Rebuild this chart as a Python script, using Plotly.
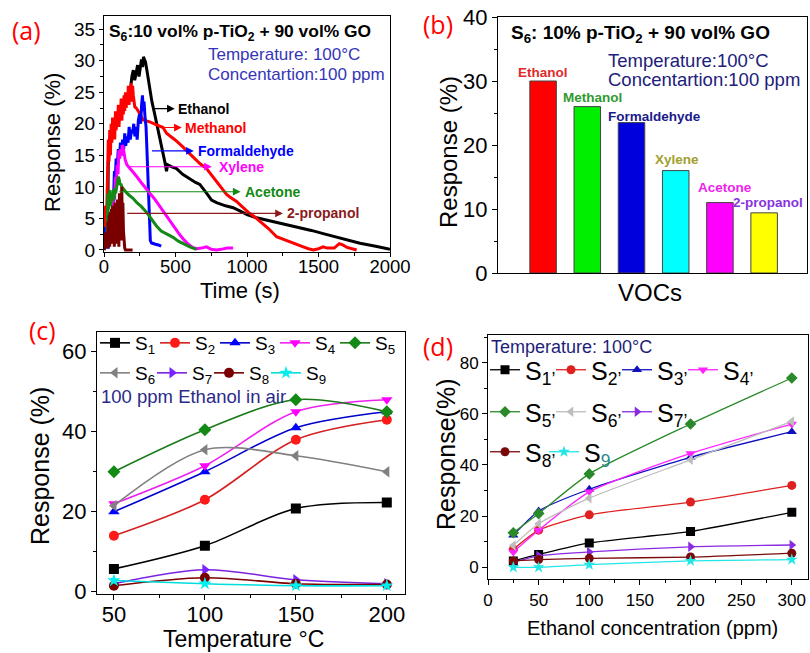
import plotly.graph_objects as go

W, H = 810, 653
def px(x): return x / W
def py(y): return 1 - y / H

# ---------------- Panel (a): response vs time ----------------
ethanol_t = [0, 25, 30, 40, 60, 80, 100, 120, 140, 160,
             180, 195, 205, 215, 225, 235, 245, 255, 262, 270,
             276, 283, 290, 300, 310, 320, 335, 350, 365, 380,
             395, 410, 425, 437, 445, 470, 507, 550, 600, 640,
             670, 700, 717, 752, 787, 850, 903, 950, 1000, 1067,
             1137, 1200, 1253, 1300, 1370, 1450, 1533, 1603, 1700, 1790,
             1900, 2000]
ethanol_r = [0, 2, 14, 17, 18.5, 19.5, 20.5, 21.5, 22.5, 23.5,
             24.5, 27.5, 28.5, 26.9, 28.5, 29.3, 27.5, 29.6, 30.2, 29,
             30.6, 30.2, 29.8, 28.5, 27, 25.3, 23.5, 22, 20.5, 18.5,
             17, 15.5, 14, 12.5, 13.5, 13.2, 12.9, 12.0, 11.2, 10.7,
             10.4, 9.6, 9.0, 7.9, 7.5, 7.0, 6.7, 6.2, 5.6, 5.1,
             4.75, 4.4, 4.2, 3.9, 3.5, 3.1, 2.6, 2.2, 1.6, 1.06,
             0.6, 0.1]
methanol_t = [0, 5, 10, 15, 20, 25, 30, 35, 40, 45,
              50, 55, 60, 65, 70, 75, 80, 85, 90, 95,
              100, 105, 110, 115, 120, 125, 130, 135, 140, 145,
              150, 155, 160, 165, 170, 175, 180, 185, 190, 195,
              200, 205, 210, 215, 225, 240, 273, 320, 360, 413,
              437, 500, 553, 600, 640, 670, 717, 770, 820, 857,
              880, 927, 960, 1008, 1050, 1090, 1150, 1207, 1250, 1300,
              1350, 1393, 1430, 1463, 1500, 1533, 1560, 1580, 1610, 1645,
              1670, 1700, 1735, 1767]
methanol_r = [7, 2, 6.5, 1, 7, 12, 17.5, 14, 19, 15,
              20, 17, 21, 18, 20.5, 17.5, 22, 19, 21, 20,
              23, 19.5, 22.5, 21, 24, 20.5, 23, 21.5, 24.5, 22,
              25, 22.5, 24, 23, 26, 23, 25.5, 24, 26.4, 23.5,
              26, 24.5, 23, 22.7, 22.5, 22.0, 20.6, 20.3, 19.9, 19.4,
              18.5, 17.4, 16.3, 15.3, 14.5, 13.7, 12.9, 11.4, 10.0, 8.8,
              8.4, 7.7, 7.0, 6.0, 5.3, 4.6, 3.4, 2.1, 1.7, 1.3,
              0.9, 0.5, 0.2, 0.0, 0.2, 0.5, 0.3, 0.3, 0.3, 1.0,
              0.8, 0.4, 0.2, 0.0]
formaldehyde_t = [0, 8, 15, 22, 30, 38, 45, 52, 58, 63,
                  68, 73, 78, 85, 92, 100, 108, 115, 122, 130,
                  138, 145, 152, 160, 168, 176, 184, 192, 200, 208,
                  216, 224, 232, 240, 248, 256, 263, 269, 275, 280,
                  287, 294, 300, 306, 312, 318, 324, 332, 343, 360,
                  380, 400]
formaldehyde_r = [2.6, 3.6, 0.5, 2.5, 0.2, 3.5, 1.0, 4.0, 2.0, 5.5,
                  9.0, 12.5, 11.0, 14.5, 13.0, 16.0, 14.5, 17.0, 15.0, 17.5,
                  16.0, 18.5, 16.5, 18.0, 17.0, 19.5, 17.5, 19.0, 18.5, 20.0,
                  18.0, 19.5, 17.5, 20.5, 21.5, 20.0, 23.0, 24.5, 22.0, 23.5,
                  21.0, 19.5, 16.0, 13.0, 9.0, 5.0, 1.5, 1.1, 1.0, 0.9,
                  0.8, 0.6]
xylene_t = [55, 62, 68, 74, 80, 86, 92, 98, 104, 110,
            116, 122, 128, 133, 140, 148, 160, 180, 203, 230,
            260, 290, 320, 350, 380, 410, 440, 470, 500, 530,
            560, 590, 620, 650, 680, 717, 750, 787, 820, 860,
            903]
xylene_r = [2, 6.3, 9.5, 8, 11.6, 10.5, 13.5, 12, 15.8, 14.5,
            16.0, 15, 16.6, 16.4, 15.5, 14.3, 13.5, 13.0, 12.4, 11.6,
            10.7, 9.8, 9.0, 8.2, 7.2, 6.3, 5.2, 4.2, 3.3, 2.4,
            1.6, 0.9, 0.4, 0.2, 0.3, 0.5, 0.1, 0.0, 0.1, 0.3,
            0.3]
acetone_t = [20, 28, 34, 40, 46, 52, 58, 64, 70, 76,
             82, 88, 94, 100, 106, 112, 118, 125, 140, 160,
             180, 203, 230, 260, 297, 330, 367, 400, 440, 483,
             520, 560, 600, 647]
acetone_r = [2, 9.0, 6.5, 9.5, 7.0, 8.5, 7.7, 9.5, 8.0, 9.8,
             9.0, 10.3, 10.8, 11.6, 11.2, 10.3, 10.5, 10.0, 9.5, 9.0,
             8.6, 8.2, 7.5, 6.9, 6.0, 4.9, 3.8, 3.0, 2.5, 2.0,
             1.4, 0.9, 0.5, 0.1]
propanol_t = [0, 4, 8, 12, 16, 20, 24, 28, 32, 36,
              40, 44, 48, 52, 56, 60, 64, 68, 72, 76,
              80, 84, 88, 92, 96, 100, 104, 108, 112, 116,
              120, 124, 128, 132, 136, 140, 145, 150, 170, 200]
propanol_r = [0, 2.7, 0.5, 2.5, 0.2, 2.8, 0.3, 4.5, 1.0, 5.5,
              0.5, 6.0, 2.0, 6.5, 1.0, 7.0, 2.5, 6.0, 0.5, 7.5,
              3.0, 6.5, 1.0, 8.0, 2.0, 7.0, 0.5, 9.0, 3.0, 8.5,
              1.5, 10.0, 5.0, 7.5, 3.0, 1.0, 0.3, 0.0, 0.0, 0.0]

# ---------------- Panel (b): bar chart ----------------
voc_names = ["Ethanol", "Methanol", "Formaldehyde", "Xylene", "Acetone", "2-propanol"]
voc_response = [30, 26, 23.5, 16, 11, 9.4]

# ---------------- Panel (c): response vs temperature ----------------
temps = [50, 100, 150, 200]
temp_series = {
    "S1": [5.7, 11.5, 20.8, 22.3],
    "S2": [14, 23, 38, 43],
    "S3": [20, 30, 41, 45],
    "S4": [22, 31.5, 45, 48],
    "S5": [30, 40.5, 48, 45],
    "S6": [21.5, 35.5, 34, 30],
    "S7": [2, 5.5, 3, 2],
    "S8": [1.5, 3.5, 2, 1.8],
    "S9": [2.8, 2, 1.5, 1.5],
}

# ---------------- Panel (d): response vs concentration ----------------
concs = [25, 50, 100, 200, 300]
conc_series = {
    "S1": [2.5, 5, 9.5, 14, 21.5],
    "S2": [7, 14.5, 20.5, 25.5, 32],
    "S3": [12.5, 22, 30.5, 43, 53],
    "S4": [6, 14.5, 29.5, 44.5, 56],
    "S5": [13.5, 21, 36.5, 56, 74],
    "S6": [8.5, 17, 27, 42, 57],
    "S7": [2, 4.5, 6, 8, 8.7],
    "S8": [2.5, 3, 3.5, 4, 5.5],
    "S9": [0, 0, 1, 2.5, 3],
}

ARIAL = "Liberation Sans, Arial, sans-serif"
NARROW = "Liberation Sans Narrow, Arial Narrow, Liberation Sans, sans-serif"
LABELF = "Open Sans, Noto Sans, sans-serif"

fig = go.Figure()

# ---- (a) traces
a_curves = [
    (ethanol_t, ethanol_r, "black"),
    (methanol_t, methanol_r, "#ff0000"),
    (formaldehyde_t, formaldehyde_r, "#0000ff"),
    (xylene_t, xylene_r, "#ff00ff"),
    (acetone_t, acetone_r, "#138a13"),
    (propanol_t, propanol_r, "#7a0000"),
]
for t, r, c in a_curves:
    fig.add_trace(go.Scatter(x=t, y=r, mode="lines", line=dict(color=c, width=3),
                             xaxis="x", yaxis="y", showlegend=False))

# ---- (b) bars
bar_colors = ["#ff0000", "#00ee00", "#0000dd", "#00ffff", "#ff00ff", "#ffff00"]
fig.add_trace(go.Bar(x=voc_names, y=voc_response, width=0.6,
                     marker=dict(color=bar_colors, line=dict(color="#444444", width=1)),
                     xaxis="x2", yaxis="y2", showlegend=False))

# ---- (c) traces
c_style = {
    "S1": ("black", "black", "square"),
    "S2": ("#d42020", "#ff1a1a", "circle"),
    "S3": ("#0000cc", "#0000ff", "triangle-up"),
    "S4": ("#ee22ee", "#ff00ff", "triangle-down"),
    "S5": ("#1a7a1a", "#138a13", "diamond"),
    "S6": ("#808080", "#808080", "triangle-left"),
    "S7": ("#7a22e0", "#7a22ff", "triangle-right"),
    "S8": ("#7a0000", "#7a0000", "circle"),
    "S9": ("#00dddd", "#00eeee", "star"),
}
for i, (name, vals) in enumerate(temp_series.items()):
    lc, mc, sym = c_style[name]
    last_in_row = name in ("S5", "S9")
    fig.add_trace(go.Scatter(
        x=temps, y=vals, mode="lines+markers", name="S<sub>%s</sub>" % name[1:],
        line=dict(color=lc, width=1.6, shape="spline", smoothing=0.9),
        marker=dict(color=mc, symbol=sym, size=10, line=dict(width=0)),
        legendwidth=40 if last_in_row else 15 if i < 5 else 12,
        xaxis="x3", yaxis="y3", legend="legend" if i < 5 else "legend2"))

# ---- (d) traces
d_style = {
    "S1": ("black", "square"),
    "S2": ("#e02020", "circle"),
    "S3": ("#1010c0", "triangle-up"),
    "S4": ("#ff22ff", "triangle-down"),
    "S5": ("#2a8a2a", "diamond"),
    "S6": ("#bdbdbd", "triangle-left"),
    "S7": ("#8a2be2", "triangle-right"),
    "S8": ("#7a0a0a", "circle"),
    "S9": ("#22e6e6", "star"),
}
for i, (name, vals) in enumerate(conc_series.items()):
    col, sym = d_style[name]
    if name == "S9":
        label = "S<sub><span style='color:#2a8a8a'>9</span></sub>"
    else:
        label = "S<sub>%s’</sub>" % name[1:]
    leg = "legend3" if i < 4 else ("legend4" if i < 7 else "legend5")
    last_in_row = name in ("S4", "S7", "S9")
    fig.add_trace(go.Scatter(
        x=concs, y=vals, mode="lines+markers", name=label,
        line=dict(color=col, width=1.3, shape="spline", smoothing=0.6),
        marker=dict(color=col, symbol=sym, size=9, line=dict(width=0)),
        legendwidth=45 if last_in_row else (14 if name == "S8" else 21),
        xaxis="x4", yaxis="y4", legend=leg))


def ax(**kw):
    d = dict(showline=True, linecolor="black", linewidth=1, mirror=True,
             ticks="outside", tickcolor="black", ticklen=5, tickwidth=1,
             showgrid=False, zeroline=False, automargin=False,
             tickfont=dict(family=ARIAL, size=19, color="black"))
    d.update(kw)
    return d

minor = lambda dt: dict(ticks="outside", ticklen=3, dtick=dt, tickcolor="black", showgrid=False)

layout = dict(
    width=W, height=H, margin=dict(l=0, r=0, t=0, b=0, autoexpand=False),
    paper_bgcolor="white", plot_bgcolor="white", showlegend=True,
    xaxis=ax(domain=[px(104), px(390)], range=[0, 2000], anchor="y",
             tickvals=[0, 500, 1000, 1500, 2000], minor=minor(250), ticklen=4,
             ticklabelstandoff=-6, tickfont=dict(family=ARIAL, size=18.5, color="black")),
    yaxis=ax(domain=[py(252), py(15.7)], range=[-0.32, 37.13], anchor="x",
             tickvals=[0, 5, 10, 15, 20, 25, 30, 35], minor=minor(2.5), ticklen=4),
    xaxis2=ax(domain=[px(498), px(807)], range=[-1.02, 5.97], anchor="y2", type="category",
              showticklabels=False, ticks=""),
    yaxis2=ax(domain=[py(273), py(17)], range=[0, 40], anchor="x2",
              tickvals=[0, 10, 20, 30, 40], minor=minor(5),
              tickfont=dict(family=ARIAL, size=22, color="black")),
    xaxis3=ax(domain=[px(97), px(405)], range=[40.7, 210], anchor="y3",
              tickvals=[50, 100, 150, 200], minor=minor(25), ticklabelstandoff=-4,
              tickfont=dict(family=ARIAL, size=22, color="black")),
    yaxis3=ax(domain=[py(593.7), py(331.7)], range=[-0.5, 65], anchor="x3",
              tickvals=[0, 20, 40, 60], minor=minor(10),
              tickfont=dict(family=ARIAL, size=22, color="black")),
    xaxis4=ax(domain=[px(488), px(808)], range=[0, 316], anchor="y4",
              tickvals=[0, 50, 100, 150, 200, 250, 300], minor=minor(25),
              tickfont=dict(family=NARROW, size=17, color="black")),
    yaxis4=ax(domain=[py(579.3), py(335)], range=[-4.7, 90.8], anchor="x4",
              tickvals=[0, 20, 40, 60, 80], minor=minor(10),
              tickfont=dict(family=NARROW, size=17, color="black")),
)

def legend_at(xp, yp, ew, size):
    return dict(x=px(xp), y=py(yp), xanchor="left", yanchor="middle", orientation="h",
                entrywidth=ew, bgcolor="rgba(0,0,0,0)", borderwidth=0,
                font=dict(family=ARIAL, size=size, color="black"),
                tracegroupgap=0, itemclick=False)

layout["legend"] = legend_at(95, 343, 15, 19)
layout["legend2"] = legend_at(95, 373, 12, 19)
layout["legend3"] = legend_at(485, 370, 21, 25)
layout["legend4"] = legend_at(485, 412, 21, 25)
layout["legend5"] = legend_at(485, 452, 14, 25)
fig.update_layout(**layout)

ann = []
def txt(x, y, text, size, color="black", family=ARIAL, xanchor="center", yanchor="middle",
        angle=0, xref="paper", yref="paper"):
    ann.append(dict(x=x, y=y, text=text, showarrow=False, xref=xref, yref=yref,
                    xanchor=xanchor, yanchor=yanchor, textangle=angle,
                    font=dict(family=family, size=size, color=color)))

# panel letters
txt(px(26), py(30), "(a)", 25, "#ff0000", LABELF)
txt(px(438), py(24), "(b)", 25, "#ff0000", LABELF)
txt(px(42), py(330), "(c)", 25, "#ff0000", LABELF)
txt(px(438), py(346), "(d)", 25, "#ff0000", LABELF)

# axis titles
txt(px(52), py(143), "Response (%)", 22, angle=-90)
txt(px(240), py(290), "Time (s)", 22)
txt(px(448), py(152), "Response (%)", 24, angle=-90)
txt(px(650), py(292), "VOCs", 24)
txt(px(40), py(466), "Response (%)", 25, angle=-90)
txt(px(243), py(639), "Temperature °C", 23)
txt(px(446), py(455), "Response(%)", 25, angle=-90)
txt(px(652), py(628), "Ethanol concentration (ppm)", 20)

# panel (a) notes
txt(px(107), py(32), "<b>S<sub>6</sub>:10 vol% p-TiO<sub>2</sub> + 90 vol% GO</b>", 17.4, xanchor="left")
txt(px(206), py(55), "Temperature: 100°C", 17, "#3535b8", xanchor="left")
txt(px(206), py(74), "Concentartion:100 ppm", 17, "#3535b8", xanchor="left")

# panel (a) curve labels with arrows (t, response coordinates)
a_labels = [
    ("Ethanol", "black", 341, 495, 500, 22.4),
    ("Methanol", "#ff0000", 404, 544, 549, 19.4),
    ("Formaldehyde", "#0000ff", 325, 628, 645, 15.7),
    ("Xylene", "#ff00ff", 157, 754, 789, 13.2),
    ("Acetone", "#138a13", 96, 955, 971, 9.24),
    ("2-propanol", "#8b1a1a", 152, 1251, 1265, 5.8),
]
for name, col, tail, head, tx, yv in a_labels:
    ann.append(dict(x=head, y=yv, ax=tail, ay=yv, xref="x", yref="y", axref="x", ayref="y",
                    text="", showarrow=True, arrowhead=2, arrowsize=1.4, arrowwidth=1.1,
                    arrowcolor=col, standoff=0))
    txt(tx, yv, "<b>%s</b>" % name, 14, col, xanchor="left", xref="x", yref="y")

# panel (b) notes
txt(px(509), py(34), "<b>S<sub>6</sub>: 10% p-TiO<sub>2</sub> + 90 vol% GO</b>", 19, xanchor="left")
txt(px(606), py(60), "Temperature:100°C", 18.5, "#20207a", xanchor="left")
txt(px(606), py(79), "Concentartion:100 ppm", 18.5, "#20207a", xanchor="left")
b_label_colors = ["#e02a2a", "#2f9a2f", "#1a1a8c", "#a0a030", "#ee22ee", "#8833dd"]
b_xshift = [0, 5, 23, 1, 5, 4]
b_yshift = [9, 9, 6, 11, 15, 10]
for name, v, col, xs, ys in zip(voc_names, voc_response, b_label_colors, b_xshift, b_yshift):
    ann.append(dict(x=name, y=v, xref="x2", yref="y2", text="<b>%s</b>" % name, showarrow=False,
                    xanchor="center", yanchor="middle", xshift=xs, yshift=ys,
                    font=dict(family=ARIAL, size=13.5, color=col)))

# panel (c), (d) notes
txt(px(99), py(396), "100 ppm Ethanol in air", 18.5, "#2a2a8a", xanchor="left")
txt(px(489), py(347), "Temperature: 100°C", 18, "#1e1e78", NARROW, xanchor="left")

fig.update_layout(annotations=ann)
fig.write_html("out.html", config={"displayModeBar": False})
